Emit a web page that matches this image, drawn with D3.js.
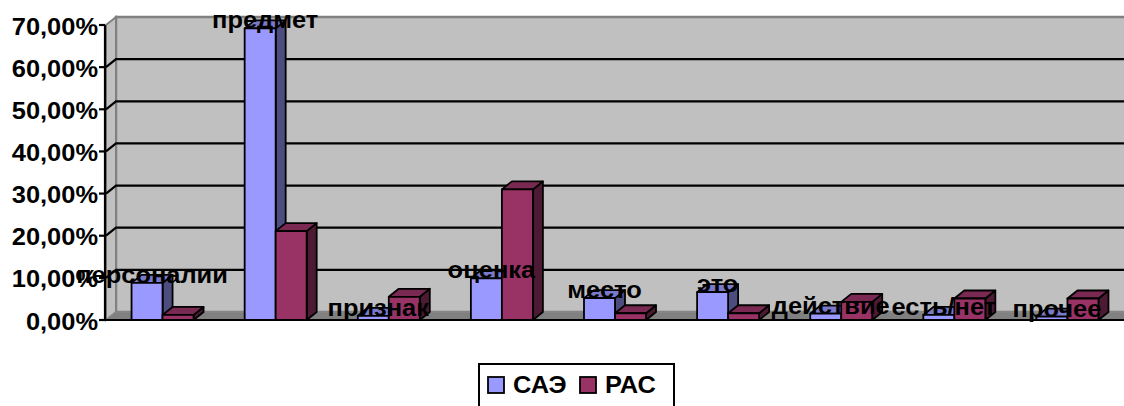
<!DOCTYPE html>
<html>
<head>
<meta charset="utf-8">
<script src="https://cdn.jsdelivr.net/npm/d3@7"></script>
<style>
  html, body { margin: 0; padding: 0; background: #fff; }
  svg { display: block; }
  text { font-family: "Liberation Sans", Arial, sans-serif; font-weight: bold; fill: #000; }
</style>
</head>
<body>
<svg id="chart" width="1124" height="406"></svg>
<script>
// Category names, shown as labels above the first series
const categories = ["персоналии", "предмет", "признак", "оценка", "место", "это", "действие", "есть/нет", "прочее"];
const seriesNames = ["САЭ", "РАС"];
// Shares per category (fractions of 1)
const saeValues = [0.088, 0.692, 0.010, 0.099, 0.052, 0.066, 0.015, 0.012, 0.008];
const pacValues = [0.012, 0.211, 0.055, 0.310, 0.016, 0.016, 0.043, 0.051, 0.051];
const yTickValues = [0, 0.1, 0.2, 0.3, 0.4, 0.5, 0.6, 0.7];

const seriesValues = [saeValues, pacValues];
const colors = {
  "САЭ": { front: "#9999ff", top: "#7a7acc", side: "#4d4d80" },
  "РАС": { front: "#993366", top: "#7a2952", side: "#4d1a33" }
};

const svg = d3.select("#chart");
const W = 1124;
const left = 106, right = W, floorY = 320, topY = 25;
const dx = 10, dy = -8;      // depth offset of the 3D box
const textStretch = 1.06;    // slightly wide bold lettering
const placeText = (sel, fx, fy) =>
  sel.attr("transform", (d, i) => `translate(${fx(d, i)},${fy(d, i)}) scale(${textStretch},1)`);

const x0 = d3.scaleBand().domain(categories).range([left, right]).paddingInner(0).paddingOuter(0);
const x1 = d3.scaleBand().domain(seriesNames).range([0, x0.bandwidth()]).paddingInner(0).paddingOuter(0.824);
const y = d3.scaleLinear().domain([0, 0.7]).range([floorY, topY]);

const ruLocale = d3.formatLocale({ decimal: ",", thousands: " ", grouping: [3], currency: ["", ""], percent: "%" });
const fmt = ruLocale.format(".2%");

const poly = pts => pts.map(p => p.join(",")).join(" ");

// Back wall
svg.append("polygon")
  .attr("points", poly([[left + dx, floorY + dy], [right + dx, floorY + dy], [right + dx, y(0.7) + dy], [left + dx, y(0.7) + dy]]))
  .attr("fill", "#c0c0c0").attr("stroke", "#808080").attr("stroke-width", 2.5);

// Side wall along the value axis
svg.append("polygon")
  .attr("points", poly([[left, floorY], [left + dx, floorY + dy], [left + dx, y(0.7) + dy], [left, y(0.7)]]))
  .attr("fill", "#c0c0c0").attr("stroke", "#808080").attr("stroke-width", 2);

// Gridlines on both walls
const inner = yTickValues.filter(v => v > 0 && v < 0.7);
svg.append("g").selectAll("polyline").data(inner).join("polyline")
  .attr("points", v => poly([[left, y(v)], [left + dx, y(v) + dy], [right + dx, y(v) + dy]]))
  .attr("fill", "none").attr("stroke", "#000").attr("stroke-width", 2.2);

// Floor
svg.append("polygon")
  .attr("points", poly([[left, floorY], [right, floorY], [right + dx, floorY + dy], [left + dx, floorY + dy]]))
  .attr("fill", "#808080").attr("stroke", "#8c8c8c").attr("stroke-width", 1);

// Value and category axis lines
svg.append("line").attr("x1", left - 1).attr("x2", left - 1).attr("y1", y(0.7)).attr("y2", floorY + 1)
  .attr("stroke", "#000").attr("stroke-width", 2.2);
svg.append("line").attr("x1", left - 1).attr("x2", right).attr("y1", floorY).attr("y2", floorY)
  .attr("stroke", "#000").attr("stroke-width", 2.2);

const yAxis = svg.append("g");
yAxis.selectAll("line").data(yTickValues).join("line")
  .attr("x1", left - 7).attr("x2", left - 1).attr("y1", d => y(d)).attr("y2", d => y(d))
  .attr("stroke", "#000").attr("stroke-width", 2.2);
yAxis.selectAll("text").data(yTickValues).join("text")
  .call(placeText, () => left - 8, d => y(d))
  .attr("dy", "0.4em")
  .attr("text-anchor", "end").attr("font-size", 24)
  .text(d => fmt(d));

// 3D columns
const bars = [];
categories.forEach((c, i) => {
  seriesNames.forEach((s, j) => {
    bars.push({ cat: c, series: s, value: seriesValues[j][i] });
  });
});

const barG = svg.append("g");
bars.forEach(b => {
  const bx = x0(b.cat) + x1(b.series);
  const bw = x1.bandwidth();
  const by = y(b.value);
  const col = colors[b.series];
  const g = barG.append("g").attr("stroke", "#000").attr("stroke-width", 1.8).attr("stroke-linejoin", "round");
  g.append("polygon")
    .attr("points", poly([[bx + bw, by], [bx + bw + dx, by + dy], [bx + bw + dx, floorY + dy], [bx + bw, floorY]]))
    .attr("fill", col.side);
  g.append("polygon")
    .attr("points", poly([[bx, by], [bx + dx, by + dy], [bx + bw + dx, by + dy], [bx + bw, by]]))
    .attr("fill", col.top);
  g.append("rect")
    .attr("x", bx).attr("y", by).attr("width", bw).attr("height", floorY - by)
    .attr("fill", col.front);
});

// Category labels above the first series
svg.append("g").selectAll("text").data(categories).join("text")
  .call(placeText,
    c => x0(c) + x1("САЭ") + x1.bandwidth() / 2 + dx / 2,
    (c, i) => y(saeValues[i]))
  .attr("text-anchor", "middle").attr("font-size", 24)
  .text(c => c);

// Legend
const lg = svg.append("g");
lg.append("rect").attr("x", 479).attr("y", 364).attr("width", 195).attr("height", 60)
  .attr("fill", "#fff").attr("stroke", "#000").attr("stroke-width", 2);
const legendX = [488, 580];
seriesNames.forEach((s, k) => {
  lg.append("rect").attr("x", legendX[k]).attr("y", 377).attr("width", 16).attr("height", 16)
    .attr("fill", colors[s].front).attr("stroke", "#000").attr("stroke-width", 1.8);
  lg.append("text")
    .attr("transform", `translate(${legendX[k] + 25},393) scale(${textStretch},1)`)
    .attr("font-size", 24).text(s);
});
</script>
</body>
</html>
